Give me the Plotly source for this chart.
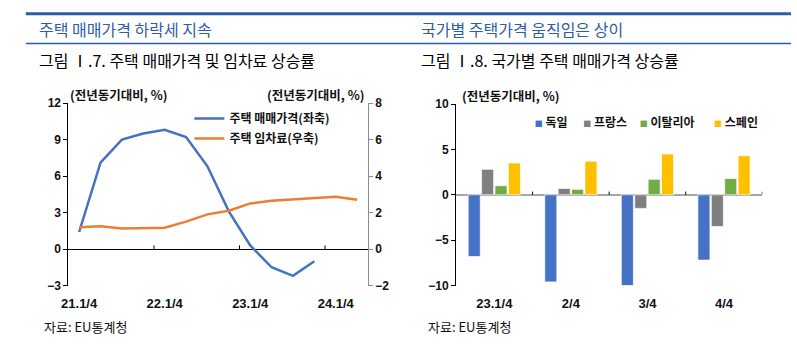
import plotly.graph_objects as go

W, H = 797, 354


def px(x):
    return x / W


def py(y):
    return 1 - y / H


# ---------------- data ----------------
quarters = ["21.1/4", "21.2/4", "21.3/4", "21.4/4",
            "22.1/4", "22.2/4", "22.3/4", "22.4/4",
            "23.1/4", "23.2/4", "23.3/4", "23.4/4",
            "24.1/4", "24.2/4"]
quarter_ticks = ["21.1/4", "22.1/4", "23.1/4", "24.1/4"]
house_price = [1.4, 7.1, 9.0, 9.5, 9.8, 9.2, 6.8, 3.1, 0.3, -1.5, -2.2, -1.0]
rent = [1.2, 1.25, 1.13, 1.13, 1.17, 1.5, 1.9, 2.1, 2.5, 2.65, 2.72, 2.78, 2.87, 2.7]

periods = ["23.1/4", "2/4", "3/4", "4/4"]
germany = [-6.8, -9.6, -10.0, -7.2]
france = [2.8, 0.7, -1.5, -3.5]
italy = [1.0, 0.6, 1.7, 1.8]
spain = [3.5, 3.7, 4.5, 4.3]

KR = "Noto Sans CJK KR"
NUM = "Liberation Sans, Arial"
BLUE = "#4472C4"
ORANGE = "#ED7D31"
GRAY = "#7F7F7F"
GREEN = "#70AD47"
GOLD = "#FFC000"
HEAD = "#2E5CA6"

fig = go.Figure()

# ---------------- left chart ----------------
fig.add_trace(go.Scatter(x=quarters[:len(house_price)], y=house_price, mode="lines",
                         name="주택 매매가격(좌축)", line=dict(color=BLUE, width=2.5),
                         xaxis="x", yaxis="y", legend="legend"))
fig.add_trace(go.Scatter(x=quarters, y=rent, mode="lines",
                         name="주택 임차료(우축)", line=dict(color=ORANGE, width=2.5),
                         xaxis="x", yaxis="y2", legend="legend2"))

# ---------------- right chart ----------------
series = [("독일", germany, BLUE), ("프랑스", france, GRAY),
          ("이탈리아", italy, GREEN), ("스페인", spain, GOLD)]
for name, vals, col in series:
    fig.add_trace(go.Bar(x=periods, y=vals, name=name, showlegend=False,
                         marker=dict(color=col, line=dict(color="rgba(255,255,255,0.7)", width=1)),
                         xaxis="x2", yaxis="y3"))
# legend entries: small coloured square drawn right next to the label (Excel style)
for i, (name, vals, col) in enumerate(series):
    label = f"<span style='color:{col};font-size:8px'>■</span> {name}"
    fig.add_trace(go.Scatter(x=[None], y=[None], mode="markers", name=label,
                             marker=dict(symbol="square", size=1, color="rgba(0,0,0,0)"),
                             xaxis="x2", yaxis="y3", legend=f"legend{i + 3}"))

tickfont = dict(family=NUM, size=12, color="#111", weight="bold")
xtickfont = dict(family=NUM, size=13, color="#111", weight="bold")

lg_font = dict(family=KR, size=12, color="#111", weight="bold")


def leg(xp, yp):
    return dict(x=px(xp), y=py(yp), xref="paper", yref="paper", xanchor="left", yanchor="middle",
                bgcolor="rgba(0,0,0,0)", borderwidth=0, font=lg_font,
                itemclick=False, itemdoubleclick=False)


layout = dict(
    width=W, height=H, margin=dict(l=0, r=0, t=0, b=0),
    paper_bgcolor="white", plot_bgcolor="white",
    barmode="group", bargap=0.3, bargroupgap=0.1,
    font=dict(family=KR, color="#111"),
    xaxis=dict(domain=[px(62), px(364)], anchor="y", type="category",
               categoryorder="array", categoryarray=quarters, range=[-0.5, 13.5],
               tickvals=quarter_ticks, ticks="outside", ticklen=6, tickcolor="rgba(0,0,0,0)",
               showline=False, showgrid=False, zeroline=False, tickfont=xtickfont),
    yaxis=dict(domain=[py(290), py(100)], anchor="x", range=[-3, 12], dtick=3,
               showline=True, linecolor="#000", linewidth=1, ticks="outside", ticklen=4,
               tickcolor="#000", showgrid=False, zeroline=True, zerolinecolor="#000",
               zerolinewidth=1, tickfont=tickfont),
    yaxis2=dict(overlaying="y", side="right", anchor="x", range=[-2, 8], dtick=2,
                showline=True, linecolor="#8C8C8C", linewidth=1.3, ticks="outside", ticklen=4,
                tickcolor="#8C8C8C", showgrid=False, zeroline=False, tickfont=tickfont),
    xaxis2=dict(domain=[px(453), px(762)], anchor="y3", type="category",
                categoryorder="array", categoryarray=periods, range=[-0.5, 3.5],
                ticks="outside", ticklen=6, tickcolor="rgba(0,0,0,0)",
                showline=False, showgrid=False, zeroline=False, tickfont=xtickfont),
    yaxis3=dict(domain=[py(290), py(101)], anchor="x2", range=[-10, 10], dtick=5,
                showline=True, linecolor="#000", linewidth=1, ticks="outside", ticklen=4,
                tickcolor="#000", showgrid=False, zeroline=True, zerolinecolor="#A6A6A6",
                zerolinewidth=1.5, tickfont=tickfont),
    legend=leg(184, 116),
    legend2=leg(184, 137),
    legend3=leg(492, 120),
    legend4=leg(541, 120),
    legend5=leg(598, 120),
    legend6=leg(673, 120),
)
fig.update_layout(**layout)

# ---------------- decorations ----------------
shapes = [
    dict(type="line", xref="paper", yref="paper", x0=px(19), x1=px(791), y0=py(7), y1=py(7),
         line=dict(color=HEAD, width=3)),
    dict(type="line", xref="paper", yref="paper", x0=px(19), x1=px(791), y0=py(38), y1=py(38),
         line=dict(color=HEAD, width=1.3)),
]
# category-boundary tick marks on the zero lines
for k in range(4, len(quarters), 4):
    shapes.append(dict(type="line", xref="x", yref="y", x0=k - 0.5, x1=k - 0.5, y0=0, y1=0.3,
                       line=dict(color="#000", width=1)))
for k in range(1, len(periods) + 1):
    shapes.append(dict(type="line", xref="x2", yref="y3", x0=k - 0.5, x1=k - 0.5, y0=0, y1=0.35,
                       line=dict(color="#000", width=1)))
fig.update_layout(shapes=shapes)

ann = []


def text(x, y, t, size, color="#111", anchor="left", weight="normal", family=KR):
    ann.append(dict(x=px(x), y=py(y), xref="paper", yref="paper", text=t, showarrow=False,
                    xanchor=anchor, yanchor="middle",
                    font=dict(family=family, size=size, color=color, weight=weight)))


text(30, 23, "주택 매매가격 하락세 지속", 16, HEAD)
text(416, 23, "국가별 주택가격 움직임은 상이", 16, HEAD)
text(30, 55, "그림 Ⅰ.7. 주택 매매가격 및 임차료 상승률", 16, "#000")
text(416, 55, "그림 Ⅰ.8. 국가별 주택 매매가격 상승률", 16, "#000")
text(62, 91, "(전년동기대비, %)", 12.5, "#111", "left", "bold")
text(362, 91, "(전년동기대비, %)", 12.5, "#111", "right", "bold")
text(457, 92, "(전년동기대비, %)", 12.5, "#111", "left", "bold")
text(35, 333, "자료: EU통계청", 13, "#111")
text(423, 333, "자료: EU통계청", 13, "#111")
fig.update_layout(annotations=ann)

fig.write_html("out.html")
